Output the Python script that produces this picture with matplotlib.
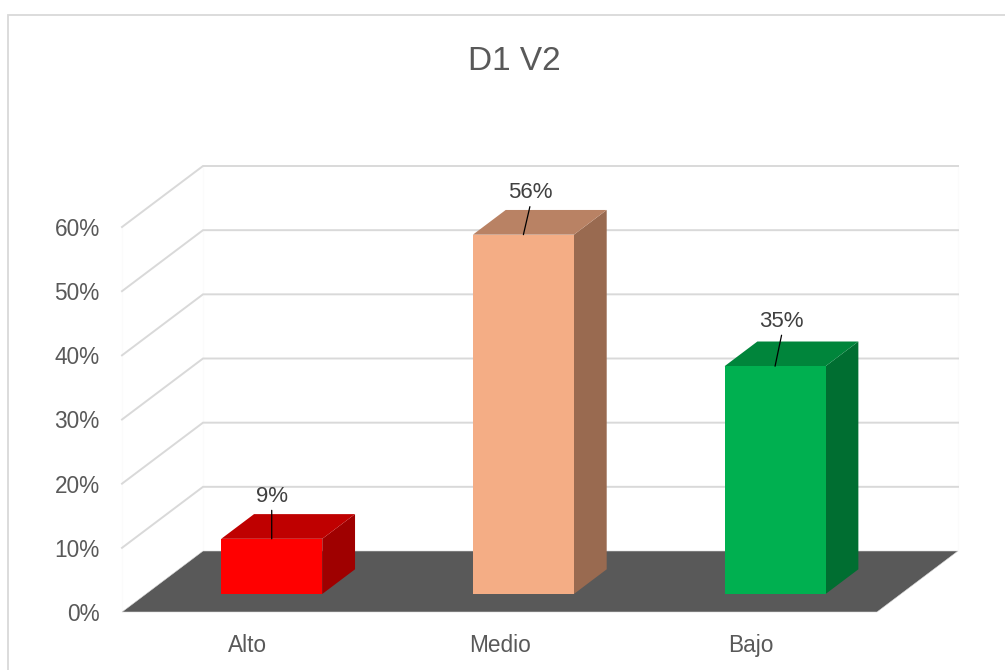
import matplotlib
matplotlib.use("Agg")
import matplotlib.pyplot as plt
from matplotlib.lines import Line2D
from matplotlib.patches import Polygon

categories = ["Alto", "Medio", "Bajo"]
values = [8.6, 56.0, 35.5]
labels = ["9%", "56%", "35%"]
ticks = [0, 10, 20, 30, 40, 50, 60]
title = "D1 V2"

front_colors = ["#FF0000", "#F4AD85", "#00B050"]
top_colors = ["#BF0000", "#B98264", "#00853B"]
side_colors = ["#9F0000", "#996A50", "#006E31"]

W, H = 1005, 670
plt.rcParams["font.family"] = ["Liberation Sans", "DejaVu Sans"]
fig = plt.figure(figsize=(W / 100, H / 100), dpi=100, facecolor="white")

# Axes = front plane of the 3-D box
L, R, B, T = 122.0, 877.0, 612.0, 227.0
ax = fig.add_axes([L / W, 1 - B / H, (R - L) / W, (B - T) / H])
ax.set_xlim(-0.5, 2.5)
ax.set_ylim(0, 60)
ax.patch.set_alpha(0)
for s in ax.spines.values():
    s.set_visible(False)

px_x = 3.0 / (R - L)      # data units per pixel
px_y = 60.0 / (B - T)
DX, DY = 81 * px_x, 61 * px_y       # full depth of the box
D0, D1 = 0.295, 0.70                # depth span of the bars
HALF = 50.5 * px_x                  # half bar width


def proj(x, y, d):
    return (x + DX * d, y + DY * d)


# Walls and grid
for t in ticks[1:]:
    ax.plot([-0.5, -0.5 + DX, 2.5 + DX], [t, t + DY, t + DY], color="#D9D9D9",
            lw=1.4, clip_on=False, zorder=1, solid_joinstyle="miter")
for x, d in [(-0.5, 0), (-0.5, 1), (2.5, 1)]:
    x0, y0 = proj(x, 0, d)
    ax.plot([x0, x0], [y0, 60 + DY * d], color="#FBFBFB", lw=0.8, clip_on=False, zorder=0.5)

# Floor
ax.add_patch(Polygon([proj(-0.5, 0, 0), proj(2.5, 0, 0), proj(2.5, 0, 1), proj(-0.5, 0, 1)],
                     closed=True, facecolor="#595959", edgecolor="#D9D9D9", lw=0.4,
                     clip_on=False, zorder=2))

# Bars
for i, v in enumerate(values):
    xl, xr = i - HALF, i + HALF
    ax.add_patch(Polygon([proj(xr, 0, D0), proj(xr, 0, D1), proj(xr, v, D1), proj(xr, v, D0)],
                         closed=True, fc=side_colors[i], ec="none", clip_on=False, zorder=3))
    ax.add_patch(Polygon([proj(xl, v, D0), proj(xr, v, D0), proj(xr, v, D1), proj(xl, v, D1)],
                         closed=True, fc=top_colors[i], ec="none", clip_on=False, zorder=3))
    ax.add_patch(Polygon([proj(xl, 0, D0), proj(xr, 0, D0), proj(xr, v, D0), proj(xl, v, D0)],
                         closed=True, fc=front_colors[i], ec="none", clip_on=False, zorder=4))

# Data labels with leader lines
leader_dx = [0, 6.5, 6.5]
leader_dy = [28.5, 28, 31]
for i, v in enumerate(values):
    anchor = proj(i, v, D0)
    ax.annotate("", xy=anchor, xytext=(leader_dx[i] * 0.72, leader_dy[i] * 0.72),
                textcoords="offset points",
                arrowprops=dict(arrowstyle="-", color="black", lw=0.9, shrinkA=0, shrinkB=0),
                zorder=5, annotation_clip=False)
    ax.annotate(labels[i], xy=anchor, xytext=(leader_dx[i] * 0.72, (leader_dy[i] + 14) * 0.72),
                textcoords="offset points", ha="center", va="center", fontsize=16,
                color="#404040", zorder=6, annotation_clip=False)

# Ticks
ax.set_xticks(range(len(categories)), categories)
ax.set_yticks(ticks, [f"{t}%" for t in ticks])
ax.tick_params(axis="both", length=0, labelsize=16.3, labelcolor="#595959")
ax.tick_params(axis="x", pad=15.5)
ax.tick_params(axis="y", pad=16)

# Title and outer frame
fig.text(514 / W, 1 - 62 / H, title, ha="center", va="center", fontsize=24, color="#595959")
fig.add_artist(Line2D([8 / W, 8 / W, 1], [0, 1 - 15 / H, 1 - 15 / H], color="#D9D9D9", lw=1.3,
                      transform=fig.transFigure, solid_joinstyle="miter"))

fig.savefig("out.png", dpi=100, facecolor="white")
